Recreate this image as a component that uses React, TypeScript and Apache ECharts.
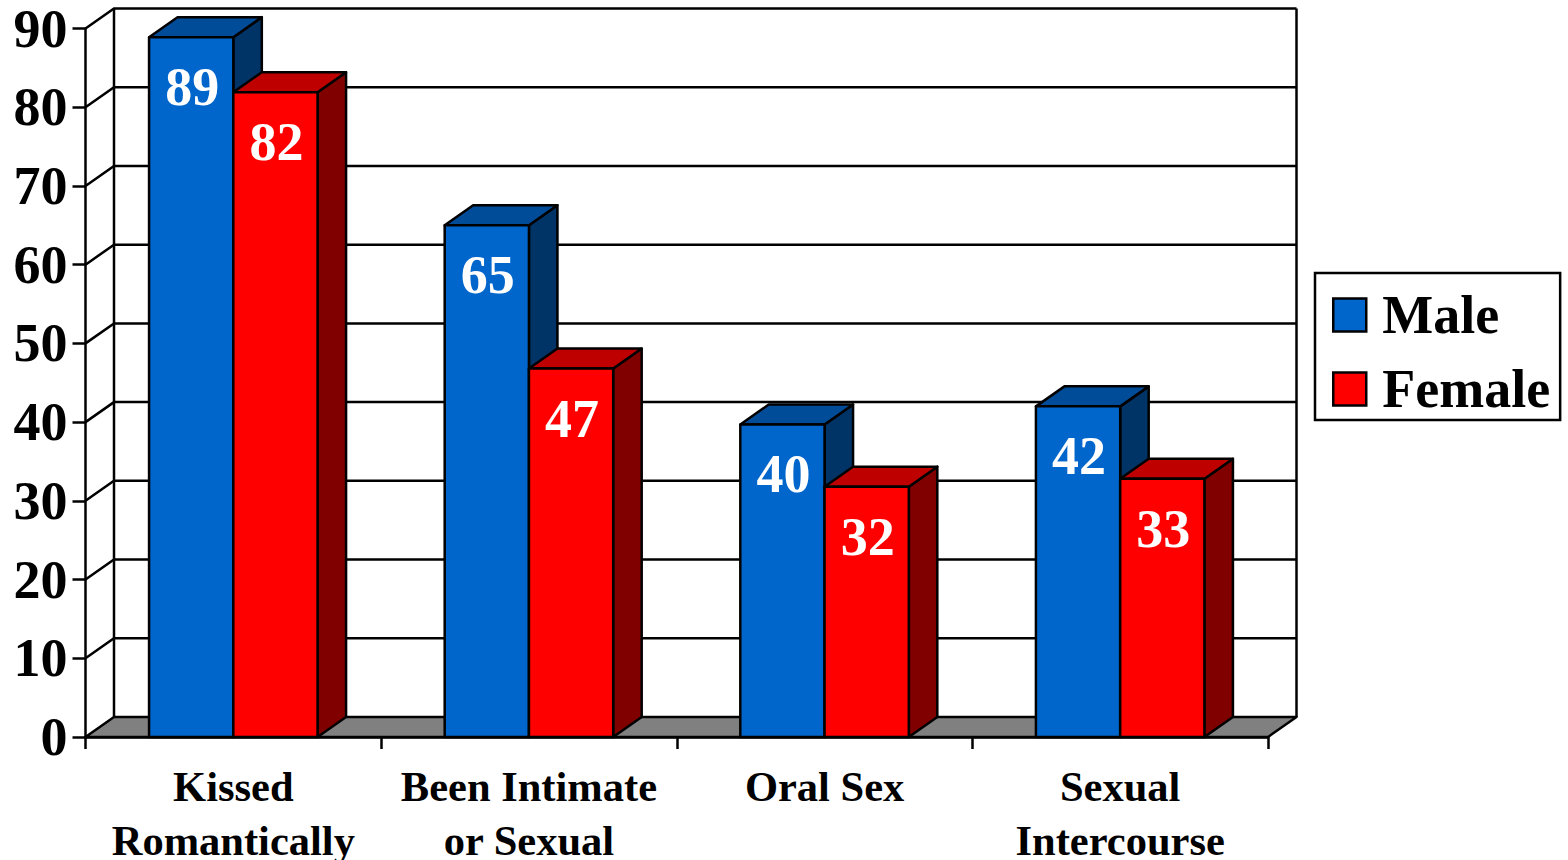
import React, { useEffect, useRef } from "react";
import * as echarts from "echarts";

const categories = ["Kissed\nRomantically", "Been Intimate\nor Sexual", "Oral Sex", "Sexual\nIntercourse"];
const maleValues = [88.9, 65, 39.7, 42];
const femaleValues = [81.9, 46.8, 31.8, 32.8];
const yTicks = [0, 10, 20, 30, 40, 50, 60, 70, 80, 90];

const SERIF = '"Liberation Serif", serif';
const DX = 28.5;
const DY = -20;
const LW = 2.5;
const LAB = `bold 54px ${SERIF}`;

const MALE = { front: "#0066CC", top: "#004C99", side: "#003366" };
const FEMALE = { front: "#FF0000", top: "#BF0000", side: "#800000" };

const poly = (points: number[][], fill: string) => ({
  type: "polygon",
  shape: { points },
  style: { fill, stroke: "#000", lineWidth: LW, lineJoin: "round" },
});

const barRenderer = (colors: typeof MALE, side: number) => (_p: any, api: any) => {
  const cat = api.value(0);
  const val = api.value(1);
  const top = api.coord([cat, val]);
  const base = api.coord([cat, 0]);
  const w = api.size([1, 0])[0] * 0.285;
  const x0 = side < 0 ? top[0] - w : top[0];
  const x1 = x0 + w;
  return {
    type: "group",
    children: [
      poly([[x1, top[1]], [x1 + DX, top[1] + DY], [x1 + DX, base[1] + DY], [x1, base[1]]], colors.side),
      poly([[x0, top[1]], [x0 + DX, top[1] + DY], [x1 + DX, top[1] + DY], [x1, top[1]]], colors.top),
      poly([[x0, top[1]], [x1, top[1]], [x1, base[1]], [x0, base[1]]], colors.front),
      {
        type: "text",
        style: {
          text: String(Math.round(val)),
          x: (x0 + x1) / 2 + 1,
          y: top[1] + 50,
          fill: "#fff",
          font: LAB,
          align: "center",
          verticalAlign: "middle",
        },
      },
    ],
  };
};

const frameRenderer = (_p: any, api: any) => {
  const v = api.value(1);
  const band = api.size([1, 0])[0];
  const left = api.coord([0, v])[0] - band / 2;
  const right = api.coord([categories.length - 1, v])[0] + band / 2;
  const y = api.coord([0, v])[1];
  const line = { stroke: "#000", lineWidth: LW, fill: "none" };
  const children: any[] = [];
  if (v === 0) {
    children.push(poly([[left, y], [left + DX, y + DY], [right + DX, y + DY], [right, y]], "#808080"));
  } else {
    children.push({
      type: "polyline",
      shape: { points: [[left, y], [left + DX, y + DY], [right + DX, y + DY]] },
      style: line,
    });
  }
  if (v === yTicks[yTicks.length - 1]) {
    const floor = api.coord([0, 0])[1] + DY;
    children.push(
      { type: "line", shape: { x1: left + DX, y1: y + DY, x2: left + DX, y2: floor }, style: line },
      { type: "line", shape: { x1: right + DX, y1: y + DY, x2: right + DX, y2: floor }, style: line },
    );
  }
  return { type: "group", children };
};

export default function App() {
  const ref = useRef<HTMLDivElement>(null);
  useEffect(() => {
    document.body.style.margin = "0";
    const chart = echarts.init(ref.current!, null, { renderer: "svg" });
    chart.setOption({
      animation: false,
      backgroundColor: "#fff",
      grid: { left: 85.5, right: 300, top: 28.5, bottom: 123, outerBoundsMode: "none" },
      legend: {
        orient: "vertical",
        left: 1315,
        top: 273,
        padding: [12, 10, 1, 17],
        itemGap: 14,
        itemWidth: 33,
        itemHeight: 33,
        borderColor: "#000",
        borderWidth: 2.5,
        backgroundColor: "#fff",
        icon: "rect",
        data: ["Male", "Female"],
        itemStyle: { borderColor: "#000", borderWidth: 2.5 },
        textStyle: { fontFamily: SERIF, fontWeight: "bold", fontSize: 54, color: "#000", lineHeight: 60, padding: [0, 0, 0, 11] },
      },
      xAxis: {
        type: "category",
        data: categories,
        axisLine: { lineStyle: { color: "#000", width: LW } },
        axisTick: { show: true, length: 12, lineStyle: { color: "#000", width: LW } },
        axisLabel: {
          interval: 0,
          margin: 22,
          fontFamily: SERIF,
          fontWeight: "bold",
          fontSize: 42.5,
          lineHeight: 54,
          color: "#000",
        },
      },
      yAxis: {
        type: "value",
        min: 0,
        max: 90,
        interval: 10,
        splitLine: { show: false },
        axisLine: { show: true, lineStyle: { color: "#000", width: LW } },
        axisTick: { show: true, length: 13, lineStyle: { color: "#000", width: LW } },
        axisLabel: {
          margin: 18,
          fontFamily: SERIF,
          fontWeight: "bold",
          fontSize: 54,
          color: "#000",
        },
      },
      series: [
        {
          type: "custom",
          name: "frame",
          renderItem: frameRenderer,
          encode: { x: 0, y: 1 },
          data: yTicks.map((v) => [0, v]),
          silent: true,
          z: 1,
        },
        {
          type: "custom",
          name: "Male",
          renderItem: barRenderer(MALE, -1),
          encode: { x: 0, y: 1 },
          data: maleValues.map((v, i) => [i, v]),
          itemStyle: { color: MALE.front },
          z: 2,
        },
        {
          type: "custom",
          name: "Female",
          renderItem: barRenderer(FEMALE, 1),
          encode: { x: 0, y: 1 },
          data: femaleValues.map((v, i) => [i, v]),
          itemStyle: { color: FEMALE.front },
          z: 3,
        },
      ],
    });
    return () => chart.dispose();
  }, []);
  return <div ref={ref} style={{ position: "absolute", left: 0, top: 0, width: 1568, height: 860 }} />;
}
